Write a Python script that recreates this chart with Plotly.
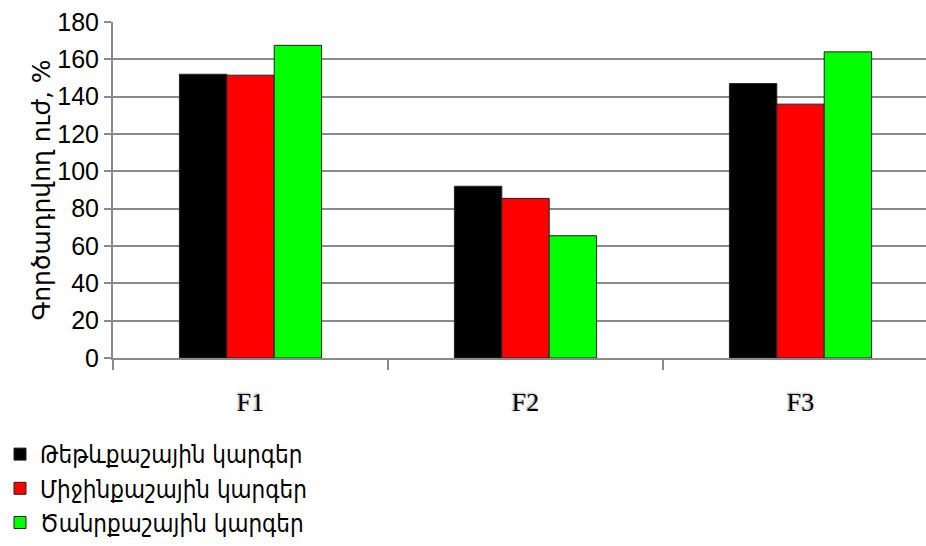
import plotly.graph_objects as go

# Categories and series
categories = ["F1", "F2", "F3"]
series_names = [
    "Թեթևքաշային կարգեր",
    "Միջինքաշային կարգեր",
    "Ծանրքաշային կարգեր",
]
light = [152, 92, 147]
middle = [151.5, 85.5, 136]
heavy = [167.5, 65.5, 164]
y_ticks = [0, 20, 40, 60, 80, 100, 120, 140, 160, 180]

colors = ["#000000", "#ff0000", "#00ff00"]

fig = go.Figure()
for name, vals, col in zip(series_names, [light, middle, heavy], colors):
    fig.add_trace(go.Bar(
        x=categories, y=vals, name=name,
        marker=dict(color=col, line=dict(color="#222222", width=1)),
    ))

W, H = 926, 546
ml, mt, mb = 113, 22, 188
plot_w = W - ml
plot_h = H - mt - mb
cat_px = 275.0
x_hi = -0.5 + plot_w / cat_px

fig.update_layout(
    width=W, height=H,
    margin=dict(l=ml, r=0, t=mt, b=mb),
    plot_bgcolor="white", paper_bgcolor="white",
    barmode="group", bargap=0.483, bargroupgap=0,
    showlegend=True,
    legend=dict(
        x=-ml / plot_w, xanchor="left",
        y=-(mb - 1) / plot_h, yanchor="bottom",
        font=dict(family="DejaVu Sans Condensed", size=24, color="#000000"),
        bgcolor="rgba(0,0,0,0)", tracegroupgap=0,
        itemwidth=30,
    ),
    xaxis=dict(
        type="category", range=[-0.5, x_hi],
        showline=True, linecolor="#8a8a8a", linewidth=2,
        ticks="outside", tickson="boundaries", ticklen=10,
        tickcolor="#8a8a8a", tickwidth=2,
        showgrid=False,
        tickfont=dict(family="Liberation Serif", size=26, color="#000000",
                      shadow="-1px -1px 2px #9a9a9a"),
        ticklabelstandoff=20,
    ),
    yaxis=dict(
        range=[0, 180], tickvals=y_ticks,
        showline=True, linecolor="#8a8a8a", linewidth=2,
        ticks="outside", ticklen=7, tickcolor="#8a8a8a", tickwidth=2,
        showgrid=True, gridcolor="#8a8a8a", gridwidth=1.5,
        zeroline=False,
        tickfont=dict(family="Liberation Sans", size=25, color="#000000"),
        title=dict(text="Գործադրվող ուժ, %",
                   font=dict(family="DejaVu Sans", size=25, color="#000000"),
                   standoff=0),
    ),
)

fig.write_html("out.html")
